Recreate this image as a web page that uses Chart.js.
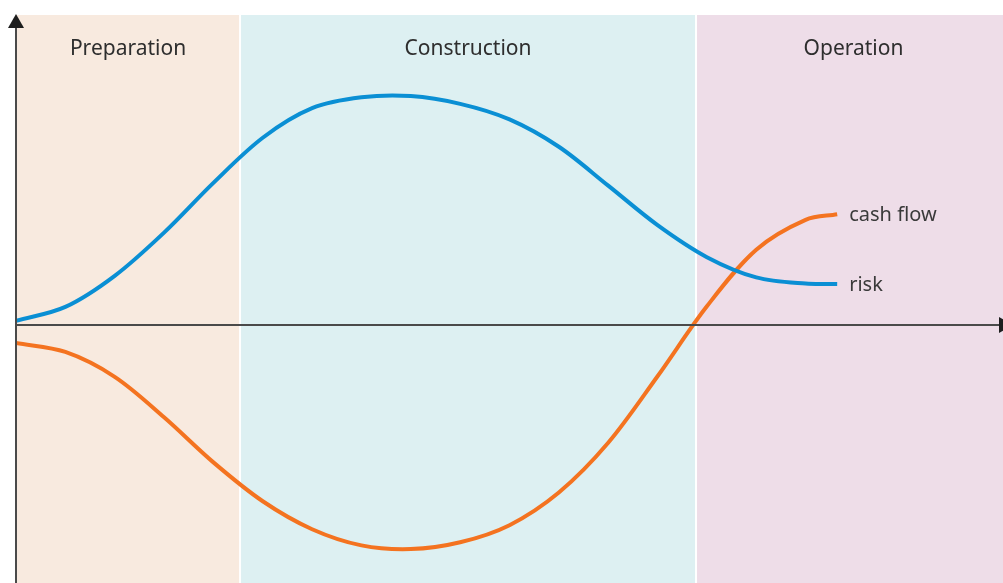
<!DOCTYPE html>
<html>
<head>
<meta charset="utf-8">
<script src="https://cdn.jsdelivr.net/npm/chart.js@4"></script>
<style>
  body { margin: 0; background: #fff; }
  #wrap { width: 1003px; height: 583px; }
</style>
</head>
<body>
<div id="wrap"><canvas id="myChart" width="1003" height="583"></canvas></div>
<script>
// project phases along the time axis (0..100)
const phaseNames = ["Preparation", "Construction", "Operation"];
const phaseStarts = [0, 22.7, 68.9];
const phaseEnds = [22.7, 68.9, 100];
const phaseColors = ["#f8eadf", "#ddf0f2", "#eedde8"];

const timeX = [0, 5, 10, 15, 20, 25, 30, 35, 40, 45, 50, 55, 60, 65, 70, 75, 80, 83.2];
const risk = [0.13, 0.58, 1.58, 2.97, 4.57, 6.02, 6.97, 7.32, 7.36, 7.11, 6.61, 5.73, 4.48, 3.21, 2.18, 1.53, 1.33, 1.32];
const cashFlow = [-0.58, -0.87, -1.67, -2.97, -4.42, -5.67, -6.57, -7.09, -7.21, -6.99, -6.44, -5.39, -3.79, -1.65, 0.6, 2.42, 3.38, 3.56];

const toPoints = (xs, ys) => xs.map((x, i) => ({ x: x, y: ys[i] }));

const FONT = "'Noto Sans', 'Open Sans', sans-serif";

const phasesPlugin = {
  id: "phases",
  beforeDatasetsDraw(chart) {
    const { ctx, chartArea, scales } = chart;
    ctx.save();
    phaseNames.forEach((name, i) => {
      const x0 = scales.x.getPixelForValue(phaseStarts[i]);
      const x1 = scales.x.getPixelForValue(phaseEnds[i]);
      ctx.fillStyle = phaseColors[i];
      const l = i === 0 ? x0 : x0 + 1;
      const r = i === phaseNames.length - 1 ? x1 : x1 - 1;
      ctx.fillRect(l, chartArea.top + 1, r - l, chartArea.bottom - chartArea.top);
      ctx.fillStyle = "#2e2e2e";
      ctx.font = "21px " + FONT;
      ctx.textAlign = "center";
      ctx.textBaseline = "middle";
      ctx.fillText(name, (x0 + x1) / 2 + (i === 2 ? 4 : 0), 49);
    });
    ctx.restore();
  },
  afterDatasetsDraw(chart) {
    const { ctx, chartArea, scales } = chart;
    const x0 = scales.x.getPixelForValue(0);
    const y0 = scales.y.getPixelForValue(0);
    ctx.save();
    ctx.strokeStyle = "#4a4a4a";
    ctx.fillStyle = "#1e1e1e";
    ctx.lineWidth = 2;
    ctx.beginPath();
    ctx.moveTo(x0, chartArea.bottom);
    ctx.lineTo(x0, chartArea.top + 12);
    ctx.moveTo(x0, y0);
    ctx.lineTo(chartArea.right - 4, y0);
    ctx.stroke();
    // arrow heads
    ctx.beginPath();
    ctx.moveTo(x0, chartArea.top);
    ctx.lineTo(x0 - 8, chartArea.top + 14);
    ctx.lineTo(x0 + 8, chartArea.top + 14);
    ctx.closePath();
    ctx.fill();
    ctx.beginPath();
    ctx.moveTo(chartArea.right + 10, y0);
    ctx.lineTo(chartArea.right - 4, y0 - 8);
    ctx.lineTo(chartArea.right - 4, y0 + 8);
    ctx.closePath();
    ctx.fill();
    // end labels
    ctx.font = "20px " + FONT;
    ctx.fillStyle = "#3a3a3a";
    ctx.textAlign = "left";
    ctx.textBaseline = "middle";
    chart.data.datasets.forEach((ds) => {
      const last = ds.data[ds.data.length - 1];
      ctx.fillText(ds.label, scales.x.getPixelForValue(last.x) + 12, scales.y.getPixelForValue(last.y) + 1);
    });
    ctx.restore();
  }
};

const myChart = new Chart(document.getElementById("myChart"), {
  type: "line",
  data: {
    datasets: [
      {
        label: "risk",
        data: toPoints(timeX, risk),
        borderColor: "#0a8fd4",
        borderWidth: 4,
        pointRadius: 0,
        tension: 0.33,
      },
      {
        label: "cash flow",
        data: toPoints(timeX, cashFlow),
        borderColor: "#f47320",
        borderWidth: 4,
        pointRadius: 0,
        tension: 0.33,
      },
    ],
  },
  options: {
    responsive: false,
    animation: false,
    layout: { padding: { left: 16, top: 14, right: 0, bottom: 0 } },
    plugins: { legend: { display: false }, tooltip: { enabled: false } },
    scales: {
      x: { type: "linear", min: 0, max: 100, display: false },
      y: { min: -8.3, max: 10, display: false },
    },
  },
  plugins: [phasesPlugin],
});
</script>
</body>
</html>
